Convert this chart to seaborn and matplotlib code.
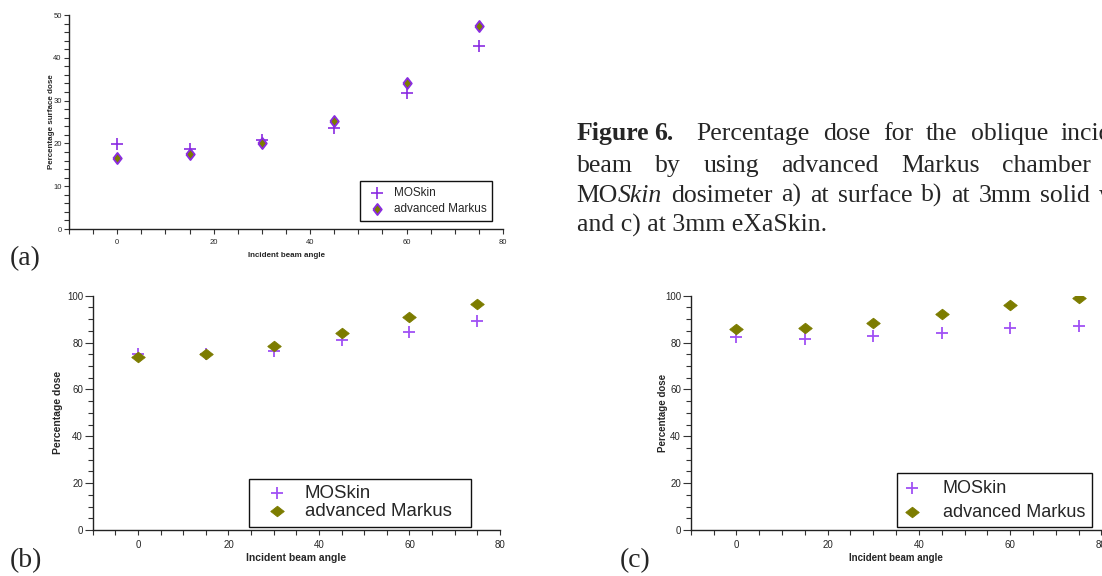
import matplotlib
matplotlib.use("Agg")
import numpy as np
import pandas as pd
import matplotlib.pyplot as plt
import seaborn as sns
from matplotlib.ticker import MultipleLocator

# ── Data ─────────────────────────────────────────────────────────────────────
angles = [0, 15, 30, 45, 60, 75]

surface_moskin = [19.8, 18.6, 20.8, 23.6, 31.8, 42.8]
surface_markus = [16.7, 17.5, 20.1, 25.2, 34.2, 47.5]

solid_moskin = [75.3, 75.0, 76.4, 81.1, 84.4, 89.3]
solid_markus = [74.0, 75.1, 78.5, 84.2, 91.0, 96.5]

exaskin_moskin = [82.2, 81.5, 82.9, 83.9, 86.1, 87.2]
exaskin_markus = [85.7, 86.4, 88.5, 92.0, 96.0, 98.9]

series_names = ["MOSkin", "advanced Markus"]

W, H = 1102, 576
PURPLE_A = "#8A2BE2"
PURPLE = "#A050F5"
OLIVE = "#7C7C00"

sns.set_style("ticks")
plt.rcParams["font.family"] = ["Liberation Sans", "DejaVu Sans"]

fig = plt.figure(figsize=(W / 100, H / 100), dpi=100)


def px_axes(left, top, right, bottom):
    return fig.add_axes([left / W, 1 - bottom / H, (right - left) / W, (bottom - top) / H])


def style_axes(ax, ymax, ymajor, yminor, tick_fs, ylab, lab_fs, xlabpad, ylabpad):
    ax.set_xlim(-10, 80)
    ax.set_ylim(0, ymax)
    ax.xaxis.set_major_locator(MultipleLocator(20))
    ax.xaxis.set_minor_locator(MultipleLocator(5))
    ax.yaxis.set_major_locator(MultipleLocator(ymajor))
    ax.yaxis.set_minor_locator(MultipleLocator(yminor))
    for s in ["top", "right"]:
        ax.spines[s].set_visible(False)
    for s in ["left", "bottom"]:
        ax.spines[s].set_linewidth(1.0)
        ax.spines[s].set_color("#222222")
    ax.tick_params(axis="x", which="both", direction="out", length=3.8,
                   width=0.8, color="#333333", labelsize=tick_fs, pad=3.5)
    ax.tick_params(axis="y", which="major", direction="out", length=5.5 if ymax > 50 else 3.8,
                   width=0.8, color="#333333", labelsize=tick_fs, pad=1.5)
    ax.tick_params(axis="y", which="minor", direction="out", length=3.5,
                   width=0.8, color="#333333")
    ax.set_xlabel("Incident beam angle", fontsize=lab_fs, fontweight="bold", labelpad=xlabpad)
    ax.set_ylabel(ylab, fontsize=lab_fs, fontweight="bold", labelpad=ylabpad)
    ax.set_facecolor("white")


def add_legend(ax, anchor, fs, spacing, handlelen, textpad, bpad=0.35,
               loc="lower right", mode=None):
    leg = ax.legend(loc=loc, bbox_to_anchor=anchor, mode=mode, fontsize=fs,
                    frameon=True, fancybox=False, framealpha=1, edgecolor="#111111",
                    labelspacing=spacing, handlelength=handlelen, handletextpad=textpad,
                    borderpad=bpad, borderaxespad=0)
    leg.get_frame().set_linewidth(1.0)
    return leg


diamond_tall = [(-0.77, 0), (0, 1), (0.77, 0), (0, -1), (-0.77, 0)]
diamond_wide = [(-1, 0), (0, 0.78), (1, 0), (0, -0.78), (-1, 0)]

# ── (a) surface ──────────────────────────────────────────────────────────────
df_a = pd.DataFrame({"angle": angles, series_names[0]: surface_moskin,
                     series_names[1]: surface_markus})
ax_a = px_axes(69, 15, 503, 229)
sns.scatterplot(data=df_a, x="angle", y=series_names[0], ax=ax_a, marker="+",
                s=64, color=PURPLE_A, linewidth=1.2, label=series_names[0])
sns.scatterplot(data=df_a, x="angle", y=series_names[1], ax=ax_a, marker=diamond_tall,
                s=64, color=OLIVE, edgecolor=PURPLE_A, linewidth=1.3,
                label=series_names[1])
style_axes(ax_a, 50, 10, 2, 5.5, "Percentage surface dose", 5.8, 4.5, -1)
add_legend(ax_a, (0.6705, 0.037, 0.304, 0.2), 8.5, 0.35, 1.83, 0.58, bpad=0.5,
           loc="lower left", mode="expand")

# ── (b) 3mm solid water ──────────────────────────────────────────────────────
df_b = pd.DataFrame({"angle": angles, series_names[0]: solid_moskin,
                     series_names[1]: solid_markus})
ax_b = px_axes(92.7, 295.7, 500, 530)
sns.scatterplot(data=df_b, x="angle", y=series_names[0], ax=ax_b, marker="+",
                s=80, color=PURPLE, linewidth=1.3, label=series_names[0])
sns.scatterplot(data=df_b, x="angle", y=series_names[1], ax=ax_b, marker=diamond_wide,
                s=95, color=OLIVE, edgecolor=OLIVE, linewidth=0.6,
                label=series_names[1])
style_axes(ax_b, 100, 20, 5, 7, "Percentage dose", 7.5, 2, 3)
add_legend(ax_b, (0.3838, 0.014, 0.545, 0.2), 13.4, 0.05, 2.3, 0.35,
           loc="lower left", mode="expand")

# ── (c) 3mm eXaSkin ──────────────────────────────────────────────────────────
df_c = pd.DataFrame({"angle": angles, series_names[0]: exaskin_moskin,
                     series_names[1]: exaskin_markus})
ax_c = px_axes(690.7, 295.7, 1101.4, 530)
sns.scatterplot(data=df_c, x="angle", y=series_names[0], ax=ax_c, marker="+",
                s=80, color=PURPLE, linewidth=1.3, label=series_names[0])
sns.scatterplot(data=df_c, x="angle", y=series_names[1], ax=ax_c, marker=diamond_wide,
                s=95, color=OLIVE, edgecolor=OLIVE, linewidth=0.6,
                label=series_names[1])
style_axes(ax_c, 100, 20, 5, 7, "Percentage dose", 7, 2, -2.5)
add_legend(ax_c, (0.976, 0.0115), 13, 0.4, 1.0, 1.2)

# ── Panel letters ────────────────────────────────────────────────────────────
serif = ["Liberation Serif", "DejaVu Serif"]
for letter, x, y in [("(a)", 10, 265), ("(b)", 10, 567), ("(c)", 620, 567)]:
    fig.text(x / W, 1 - y / H, letter, family=serif, fontsize=20, va="baseline")

# ── Caption: justified lines, laid out word by word ─────────────────────────
cap_fs = 18.5
renderer = fig.canvas.get_renderer()


def put_word(x, y, pieces):
    """Draw one word made of (text, weight, style) pieces; return its right edge in px."""
    for text, wt, st in pieces:
        t = fig.text(x / W, 1 - y / H, text, family=serif, fontsize=cap_fs,
                     fontweight=wt, style=st, va="baseline")
        x += t.get_window_extent(renderer).width
    return x


def put_line(x, y, words, gap):
    for w in words:
        pieces = w if isinstance(w, list) else [(w, "normal", "normal")]
        x = put_word(x, y, pieces) + gap


x = put_word(576.7, 140, [("Figure", "bold", "normal")])
put_word(x + 5, 140, [("6.", "bold", "normal")])
put_line(696.7, 140, ["Percentage", "dose", "for", "the", "oblique", "incident"], 13)
put_line(576.7, 171.7, ["beam", "by", "using", "advanced", "Markus", "chamber", "and"], 22.5)
put_line(576.7, 201.7,
         [[("MO", "normal", "normal"), ("Skin", "normal", "italic")],
          "dosimeter", "a)", "at", "surface", "b)", "at", "3mm", "solid", "water"], 8.8)
fig.text(576.7 / W, 1 - 231.7 / H, "and c) at 3mm eXaSkin.", family=serif,
         fontsize=cap_fs, va="baseline")

fig.savefig("out.png", dpi=100)
plt.close(fig)
